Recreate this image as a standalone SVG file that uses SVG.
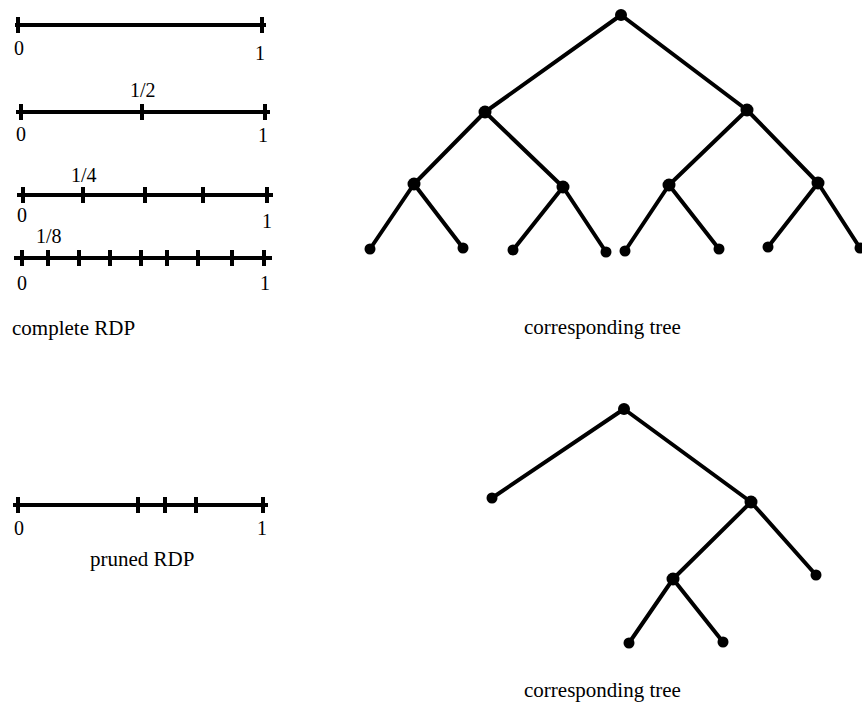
<svg xmlns="http://www.w3.org/2000/svg" width="862" height="702" viewBox="0 0 862 702">
<style>
.ax{stroke:#000;stroke-width:4;fill:none}
.tk{stroke:#000;stroke-width:4}
.e{stroke:#000;stroke-width:4;fill:none;stroke-linecap:round}
.n{fill:#000}
text{font-family:"Liberation Serif","Times New Roman",serif;font-size:20px;fill:#000}
.cap{font-size:21px}
</style>
<rect width="862" height="702" fill="#fff"/>
<g id="rdp-complete">
<g id="line1">
<line class="ax" x1="15" y1="25" x2="266" y2="25"/>
<line class="tk" x1="18" y1="17" x2="18" y2="33"/>
<line class="tk" x1="262" y1="17" x2="262" y2="33"/>
<text x="14" y="55">0</text>
<text x="255" y="60">1</text>
</g>
<g id="line2">
<line class="ax" x1="16" y1="112" x2="270" y2="112"/>
<line class="tk" x1="21" y1="104" x2="21" y2="120"/>
<line class="tk" x1="142" y1="104" x2="142" y2="120"/>
<line class="tk" x1="265" y1="104" x2="265" y2="120"/>
<text x="130" y="97">1/2</text>
<text x="16" y="141">0</text>
<text x="258" y="142">1</text>
</g>
<g id="line3">
<line class="ax" x1="17" y1="195" x2="273" y2="195"/>
<line class="tk" x1="23" y1="187" x2="23" y2="203"/>
<line class="tk" x1="83" y1="187" x2="83" y2="203"/>
<line class="tk" x1="145" y1="187" x2="145" y2="203"/>
<line class="tk" x1="203" y1="187" x2="203" y2="203"/>
<line class="tk" x1="267" y1="187" x2="267" y2="203"/>
<text x="71" y="182">1/4</text>
<text x="17" y="222">0</text>
<text x="262" y="228">1</text>
</g>
<g id="line4">
<line class="ax" x1="14" y1="258" x2="272" y2="258"/>
<line class="tk" x1="22" y1="250" x2="22" y2="266"/>
<line class="tk" x1="48" y1="250" x2="48" y2="266"/>
<line class="tk" x1="79" y1="250" x2="79" y2="266"/>
<line class="tk" x1="110" y1="250" x2="110" y2="266"/>
<line class="tk" x1="141" y1="250" x2="141" y2="266"/>
<line class="tk" x1="167" y1="250" x2="167" y2="266"/>
<line class="tk" x1="198" y1="250" x2="198" y2="266"/>
<line class="tk" x1="232" y1="250" x2="232" y2="266"/>
<line class="tk" x1="264" y1="250" x2="264" y2="266"/>
<text x="36" y="243">1/8</text>
<text x="17" y="290">0</text>
<text x="260" y="290">1</text>
</g>
<text class="cap" x="12" y="335">complete RDP</text>
</g>
<g id="rdp-pruned">
<line class="ax" x1="13" y1="505" x2="268" y2="505"/>
<line class="tk" x1="18" y1="497" x2="18" y2="513"/>
<line class="tk" x1="138" y1="497" x2="138" y2="513"/>
<line class="tk" x1="165" y1="497" x2="165" y2="513"/>
<line class="tk" x1="196" y1="497" x2="196" y2="513"/>
<line class="tk" x1="263" y1="497" x2="263" y2="513"/>
<text x="14" y="535">0</text>
<text x="257" y="535">1</text>
<text class="cap" x="90" y="566">pruned RDP</text>
</g>
<g id="connectors">
<path class="e" d="M621,15 L485,112 M621,15 L747,110 M485,112 L414,184 M485,112 L563,187 M747,110 L669,185 M747,110 L818,183 M414,184 L370,249 M414,184 L463,248 M563,187 L513,250 M563,187 L606,252 M669,185 L625,251 M669,185 L719,249 M818,183 L768,247 M818,183 L860,248"/>
<path class="e" d="M624,409 L492,498 M624,409 L751,502 M751,502 L673,579 M751,502 L816,575 M673,579 L629,643 M673,579 L723,642"/>
</g>
<g id="tree-complete">
<circle id="t1-root" class="n" cx="621" cy="15" r="6"/>
<circle id="t1-l" class="n" cx="485" cy="112" r="6.5"/>
<circle id="t1-r" class="n" cx="747" cy="110" r="6.5"/>
<circle id="t1-ll" class="n" cx="414" cy="184" r="6.5"/>
<circle id="t1-lr" class="n" cx="563" cy="187" r="6.5"/>
<circle id="t1-rl" class="n" cx="669" cy="185" r="6.5"/>
<circle id="t1-rr" class="n" cx="818" cy="183" r="6.5"/>
<circle id="t1-a" class="n" cx="370" cy="249" r="5.5"/>
<circle id="t1-b" class="n" cx="463" cy="248" r="5.5"/>
<circle id="t1-c" class="n" cx="513" cy="250" r="5.5"/>
<circle id="t1-d" class="n" cx="606" cy="252" r="5.5"/>
<circle id="t1-e" class="n" cx="625" cy="251" r="5.5"/>
<circle id="t1-f" class="n" cx="719" cy="249" r="5.5"/>
<circle id="t1-g" class="n" cx="768" cy="247" r="5.5"/>
<circle id="t1-h" class="n" cx="860" cy="248" r="5.5"/>
<text class="cap" x="524" y="334">corresponding tree</text>
</g>
<g id="tree-pruned">
<circle id="t2-root" class="n" cx="624" cy="409" r="6"/>
<circle id="t2-l" class="n" cx="492" cy="498" r="5.5"/>
<circle id="t2-r" class="n" cx="751" cy="502" r="6.5"/>
<circle id="t2-rl" class="n" cx="673" cy="579" r="6.5"/>
<circle id="t2-rr" class="n" cx="816" cy="575" r="5.5"/>
<circle id="t2-a" class="n" cx="629" cy="643" r="5.5"/>
<circle id="t2-b" class="n" cx="723" cy="642" r="5.5"/>
<text class="cap" x="524" y="697">corresponding tree</text>
</g>
</svg>
